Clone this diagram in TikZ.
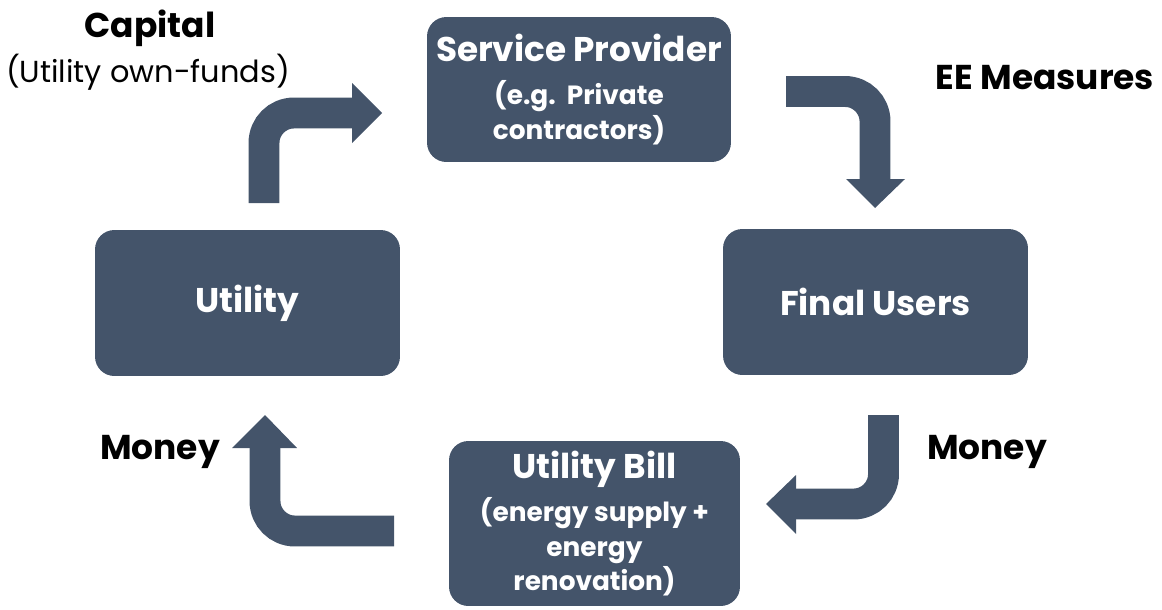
\documentclass[tikz,border=0pt]{standalone}
\usepackage{fontspec}
\setmainfont{Poppins}
\usetikzlibrary{positioning}
\definecolor{slate}{RGB}{68,84,106}

\newcommand{\bigtxt}{\bfseries\fontsize{19.5}{24}\selectfont}
\newcommand{\smalltxt}{\bfseries\fontsize{15}{19.5}\selectfont}

\begin{document}
\begin{tikzpicture}[x=0.02cm, y=-0.02cm,
    box/.style={fill=slate, rounded corners=11pt, text=white, align=center, inner sep=0pt},
    lbl/.style={font=\bfseries\fontsize{19.6}{22}\selectfont},
    shaft/.style={draw=slate, line width=17.6pt, rounded corners=17pt},
    head/.style={fill=slate}]

    \useasboundingbox (0,0) rectangle (1162,609);

    % The four boxes
    \node[box, font=\smalltxt, minimum width=6.08cm, minimum height=2.9cm] (provider) at (579,89.5)
        {\bigtxt Service Provider\\[5pt]
         \smalltxt (e.g.\ \ Private\\contractors)};
    \node[box, font=\bigtxt, minimum width=6.1cm, minimum height=2.92cm] (utility) at (247.5,303) {Utility};
    \node[box, font=\bigtxt, minimum width=6.1cm, minimum height=2.92cm] (users) at (875.5,302) {Final Users};
    \node[box, font=\smalltxt, minimum width=5.82cm, minimum height=3.3cm] (bill) at (594.5,523.5)
        {\bigtxt Utility Bill\\[5pt]
         \smalltxt (energy supply +\\energy\\renovation)};

    % Bent arrows
    \coordinate (a1) at (264,203);
    \coordinate (a1e) at (352,113);
    \draw[shaft] (a1) |- (a1e);
    \fill[head] (352,83) -- (382,113) -- (352,143) -- cycle;

    \coordinate (a2) at (786,91.5);
    \coordinate (a2e) at (875,179);
    \draw[shaft] (a2) -| (a2e);
    \fill[head] (846,179) -- (875,208) -- (905,179) -- cycle;

    \coordinate (a3) at (883.5,415);
    \coordinate (a3e) at (796,504);
    \draw[shaft] (a3) |- (a3e);
    \fill[head] (796,475) -- (766,504) -- (796,534) -- cycle;

    \coordinate (a4) at (394,531);
    \coordinate (a4e) at (265,448);
    \draw[shaft] (a4) -| (a4e);
    \fill[head] (232,448) -- (265,415) -- (297,448) -- cycle;

    % Labels
    \node[lbl] (capital) at (150,28) {Capital};
    \node[font=\fontsize{17.3}{20}\selectfont] (funds) at (148,72) {(Utility own-funds)};
    \node[lbl] (ee) at (1045,78) {EE Measures};
    \node[lbl] (moneyL) at (160,452) {Money};
    \node[lbl] (moneyR) at (987,452) {Money};

\end{tikzpicture}
\end{document}
